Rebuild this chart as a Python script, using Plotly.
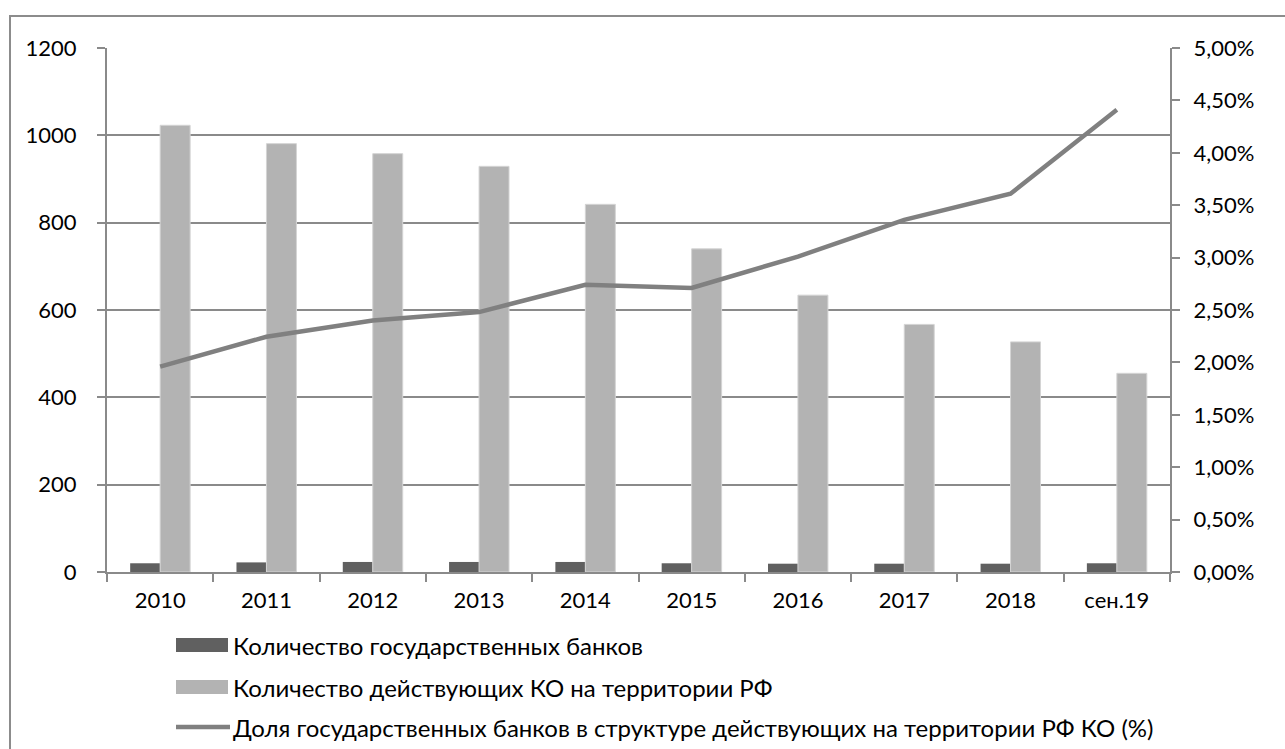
import plotly.graph_objects as go

categories = ["2010", "2011", "2012", "2013", "2014", "2015", "2016", "2017", "2018", "сен.19"]
state_banks = [20, 22, 23, 23, 23, 20, 19, 19, 19, 20]
active_ko = [1023, 981, 958, 929, 842, 740, 634, 567, 527, 455]
state_share = [0.0196, 0.02245, 0.0240, 0.0248, 0.0274, 0.0271, 0.0301, 0.0336, 0.0361, 0.0441]

names = [
    "Количество государственных банков",
    "Количество действующих КО на территории РФ",
    "Доля государственных банков в структуре действующих на территории РФ КО (%)",
]

DARK = "#606060"
LIGHT = "#b3b3b3"
LINE = "#808080"
GRID = "#8a8a8a"
FONT = "Lato"

W, H = 1285, 749
L, R, T, B = 107, 1170, 48, 572


def px(x):
    return (x - L) / (R - L)


def py(y):
    return (B - y) / (B - T)


fig = go.Figure()
fig.add_trace(go.Bar(x=categories, y=state_banks, name=names[0], marker=dict(color=DARK, line=dict(width=0))))
fig.add_trace(go.Bar(x=categories, y=active_ko, name=names[1],
                     marker=dict(color=LIGHT, line=dict(color="#d4d4d4", width=1))))
fig.add_trace(go.Scatter(x=categories, y=state_share, name=names[2], yaxis="y2", mode="lines",
                         line=dict(color=LINE, width=4.5)))

shapes = [
    # outer frame
    dict(type="rect", xref="paper", yref="paper", x0=px(10), x1=px(1400), y0=py(900), y1=py(16),
         line=dict(color="#8c8c8c", width=2), fillcolor="rgba(0,0,0,0)", layer="below"),
    # legend keys
    dict(type="rect", xref="paper", yref="paper", x0=px(176), x1=px(228), y0=py(652), y1=py(638),
         line=dict(width=0), fillcolor=DARK),
    dict(type="rect", xref="paper", yref="paper", x0=px(176), x1=px(228), y0=py(694), y1=py(680),
         line=dict(width=0), fillcolor=LIGHT),
    dict(type="line", xref="paper", yref="paper", x0=px(176), x1=px(230), y0=py(727), y1=py(727),
         line=dict(width=4.5, color=LINE)),
]
annotations = []
for name, yy in zip(names, [645, 687, 727]):
    annotations.append(dict(xref="paper", yref="paper", x=px(231), y=py(yy), xanchor="left", yanchor="middle",
                            text=name, showarrow=False, font=dict(family=FONT, size=24, color="#000")))

fig.update_layout(
    width=W, height=H, autosize=False,
    margin=dict(l=L, r=W - R, t=T, b=H - B, pad=0),
    paper_bgcolor="white", plot_bgcolor="white",
    barmode="group", bargap=0.436, bargroupgap=0,
    showlegend=False,
    separators=", ",
    font=dict(family=FONT, size=22, color="#000"),
    shapes=shapes, annotations=annotations,
    xaxis=dict(type="category", tickson="boundaries", ticks="outside", ticklen=8, tickwidth=2, tickcolor=GRID,
               showline=True, linecolor=GRID, linewidth=2, showgrid=False, ticklabelstandoff=8),
    yaxis=dict(range=[0, 1200], dtick=200, tick0=0, ticks="outside", ticklen=8, tickwidth=2, tickcolor=GRID,
               showline=True, linecolor=GRID, linewidth=2, showgrid=True, gridcolor=GRID, gridwidth=2,
               zeroline=False, ticklabelstandoff=16),
    yaxis2=dict(range=[0, 0.05], dtick=0.005, tick0=0, tickformat=".2%", overlaying="y", side="right",
                ticks="outside", ticklen=8, tickwidth=2, tickcolor=GRID, showline=True, linecolor=GRID,
                linewidth=2, showgrid=False, zeroline=False, ticklabelstandoff=9),
)

fig.write_html("out.html", config={"displayModeBar": False},
               post_script="document.body.style.margin='0px';")
